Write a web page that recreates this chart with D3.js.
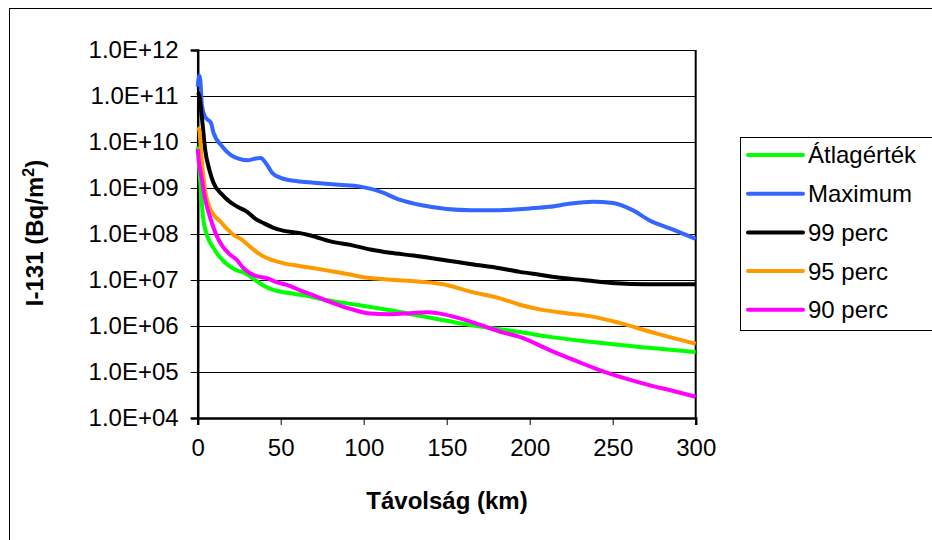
<!DOCTYPE html>
<html><head><meta charset="utf-8">
<script src="https://cdn.jsdelivr.net/npm/d3@7"></script>
<style>body{margin:0;background:#fff}svg{display:block}text{font-family:"Liberation Sans",Arial,sans-serif}</style>
</head><body><svg id="c" width="932" height="540"></svg>
<script>
const seriesNames = ["Átlagérték","Maximum","99 perc","95 perc","90 perc"];
const seriesColors = ["#00ff00","#3366ff","#000000","#ff9900","#ff00ff"];
const xTicks = [0,50,100,150,200,250,300];
const yTicks = [1e4,1e5,1e6,1e7,1e8,1e9,1e10,1e11,1e12];
const yTickLabels = ["1.0E+04","1.0E+05","1.0E+06","1.0E+07","1.0E+08","1.0E+09","1.0E+10","1.0E+11","1.0E+12"];

const avgD = [0,1,2,3.3,5,7,9.2,12,15,19.5,24,28,33,39,46,55,65,75,90,104,116,134,150,164,182,194,212,242,270,300];
const avgV = [8e9,2.5e9,8e8,2.2e8,1.1e8,7e7,5.2e7,3.6e7,2.7e7,1.95e7,1.6e7,1.45e7,1.1e7,7.8e6,6e6,5.2e6,4.6e6,3.8e6,3.1e6,2.6e6,2.2e6,1.66e6,1.3e6,1.05e6,8.5e5,7.4e5,5.8e5,4.3e5,3.4e5,2.7e5];

const maxD = [0,1,1.6,2.5,4.5,8,9.5,15,20,25,30,35,38,41,45,50,60,70,85,98,110,122,135,150,165,182,200,212,225,238,250,262,272,286,300];
const maxV = [1.6e11,2.8e11,2.2e11,6.3e10,3.5e10,2.6e10,1.6e10,7.8e9,5.2e9,4.3e9,4e9,4.4e9,4.5e9,3.5e9,2.1e9,1.66e9,1.4e9,1.3e9,1.17e9,1.07e9,8.3e8,5.5e8,4.2e8,3.5e8,3.3e8,3.3e8,3.6e8,3.9e8,4.6e8,5e8,4.7e8,3.3e8,2e8,1.26e8,7.8e7];

const p99D = [0,1,2.5,4.5,7,9.5,15,20,24,30,35,40,45,52,60,68,80,92,104,116,130,149,165,182,194,206,220,232,252,270,300];
const p99V = [1.2e11,1e11,3.5e10,6.8e9,2.5e9,1.3e9,7e8,4.8e8,3.9e8,3e8,2.1e8,1.7e8,1.4e8,1.17e8,1.07e8,9.3e7,6.9e7,5.8e7,4.6e7,3.9e7,3.4e7,2.7e7,2.2e7,1.8e7,1.5e7,1.3e7,1.1e7,1e7,8.5e6,8.1e6,8.1e6];

const p95D = [0,1,2,3.2,4.5,6.2,10,13.4,18,22,26,30,35,40,45,52,62,76,90,104,124,148,164,182,194,206,222,238,254,276,300];
const p95V = [2.1e10,1.8e10,6.3e9,2.1e9,8.9e8,4.7e8,2.5e8,1.9e8,1.26e8,9.3e7,7.8e7,5.9e7,4.2e7,3.2e7,2.7e7,2.3e7,2e7,1.66e7,1.35e7,1.1e7,9.8e6,8.1e6,5.6e6,4e6,2.9e6,2.3e6,1.9e6,1.6e6,1.17e6,6.9e5,4.1e5];

const p90D = [0,1,2.6,4,5.6,8,11.6,15,19,23.7,27,31.5,36,41.6,47,53.6,62,72,80,88,95,102,116,128,138,146,154,164,174,184,194,212,228,242,258,272,286,300];
const p90V = [7e9,3.2e9,1.5e9,7e8,3.9e8,2e8,8.9e7,5.4e7,3.7e7,2.7e7,1.9e7,1.4e7,1.2e7,1.1e7,9.1e6,7.8e6,5.9e6,4.3e6,3.3e6,2.6e6,2.2e6,1.9e6,1.8e6,1.9e6,2e6,1.86e6,1.6e6,1.26e6,9.5e5,7.2e5,5.8e5,3e5,1.74e5,1.1e5,7.2e4,5.2e4,3.9e4,2.9e4];

const seriesD = [avgD,maxD,p99D,p95D,p90D];
const seriesV = [avgV,maxV,p99V,p95V,p90V];

const svg = d3.select("#c");
const L = 197.7, R = 695.7, T = 50, B = 418;
const x = d3.scaleLinear().domain([0,300]).range([L,R]);
const y = d3.scaleLog().domain([1e4,1e12]).range([B,T]);

// outer chart border
svg.append("rect").attr("x",9.5).attr("y",8.5).attr("width",1000).attr("height",600)
  .attr("fill","none").attr("stroke","#000").attr("stroke-width",1);

// gridlines
svg.append("g").selectAll("line").data(yTicks).join("line")
  .attr("x1",L).attr("x2",R).attr("y1",d=>Math.round(y(d))+0.5).attr("y2",d=>Math.round(y(d))+0.5)
  .attr("stroke","#000").attr("stroke-width",1);

// right border
svg.append("line").attr("x1",R).attr("x2",R).attr("y1",T).attr("y2",B).attr("stroke","#000").attr("stroke-width",2);

// y axis
const yAxis = d3.axisLeft(y).tickValues(yTicks).tickFormat((d,i)=>yTickLabels[i]).tickSize(7).tickPadding(12);
const gy = svg.append("g").attr("transform",`translate(${L},0)`).call(yAxis);
gy.select(".domain").attr("stroke","#000").attr("stroke-width",2.5);
gy.selectAll(".tick line").attr("stroke","#000").attr("stroke-width",1);
gy.selectAll(".tick text").attr("font-size",24).attr("fill","#000").attr("font-family","Liberation Sans, Arial, sans-serif");

// x axis
const xAxis = d3.axisBottom(x).tickValues(xTicks).tickSize(7).tickPadding(14);
const gx = svg.append("g").attr("transform",`translate(0,${B})`).call(xAxis);
gx.select(".domain").attr("stroke","#000").attr("stroke-width",2.5);
gx.selectAll(".tick line").attr("stroke","#000").attr("stroke-width",1);
gx.selectAll(".tick text").attr("font-size",24).attr("fill","#000").attr("font-family","Liberation Sans, Arial, sans-serif");

// lines
const line = d3.line().x(p=>x(p[0])).y(p=>y(p[1])).curve(d3.curveMonotoneX);
seriesNames.forEach((n,i)=>{
  const pts = seriesD[i].map((d,j)=>[d,seriesV[i][j]]);
  svg.append("path").datum(pts).attr("d",line).attr("fill","none")
    .attr("stroke",seriesColors[i]).attr("stroke-width",4).attr("stroke-linejoin","round").attr("stroke-linecap","butt");
});

// axis titles
svg.append("text").attr("x",447).attr("y",509).attr("text-anchor","middle")
  .attr("font-size",24).attr("font-weight","bold").text("Távolság (km)");
const yt = svg.append("text").attr("transform","translate(43,233) rotate(-90)").attr("text-anchor","middle")
  .attr("font-size",24).attr("font-weight","bold");
yt.append("tspan").text("I-131 (Bq/m");
yt.append("tspan").attr("dy",-9).attr("font-size",16).text("2");
yt.append("tspan").attr("dy",9).text(")");

// legend
svg.append("rect").attr("x",740.5).attr("y",137.5).attr("width",195).attr("height",193)
  .attr("fill","#fff").attr("stroke","#000").attr("stroke-width",1);
const lg = svg.append("g");
seriesNames.forEach((n,i)=>{
  const cy = 155 + i*38.7;
  lg.append("line").attr("x1",748).attr("x2",803).attr("y1",cy).attr("y2",cy)
    .attr("stroke",seriesColors[i]).attr("stroke-width",4).attr("stroke-linecap","round");
  lg.append("text").attr("x",808).attr("y",cy).attr("dy","0.35em").attr("font-size",24).text(n);
});
</script></body></html>
